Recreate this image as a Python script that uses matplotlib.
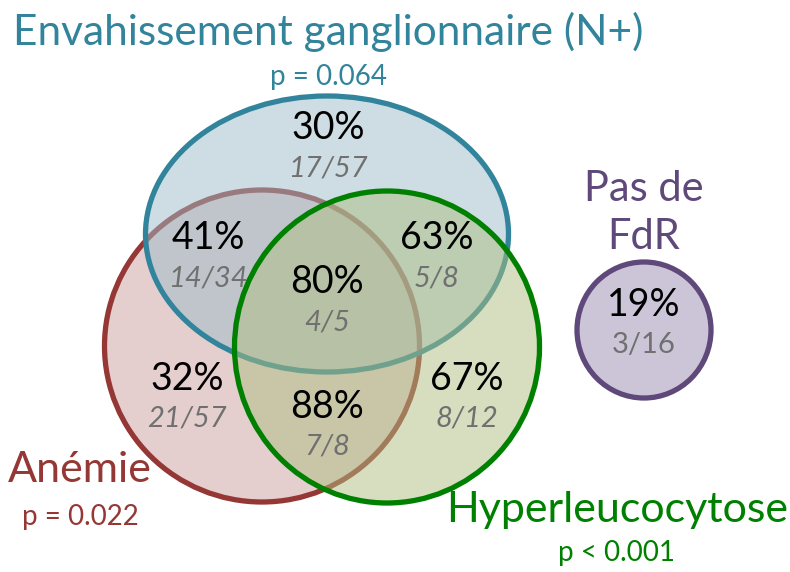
import matplotlib.pyplot as plt
from matplotlib.patches import Ellipse

plt.rcParams['font.family'] = ['Lato', 'DejaVu Sans']

# group names, p-values and colours
groups = ["Anémie", "Envahissement ganglionnaire (N+)", "Hyperleucocytose"]
pvalues = ["p = 0.022", "p = 0.064", "p < 0.001"]
edge_colors = ["#953735", "#31849B", "#008000"]
fill_colors = ["#CD9F9F", "#9DBDC9", "#AFBF81"]

# region results (percent, n/N)
regions = ["N+ seul", "Anémie + N+", "N+ + Hyperleuco", "les trois",
           "Anémie seule", "Anémie + Hyperleuco", "Hyperleuco seule"]
percents = ["30%", "41%", "63%", "80%", "32%", "88%", "67%"]
fractions = ["17/57", "14/34", "5/8", "4/5", "21/57", "7/8", "8/12"]

# no risk factor group
none_label = "Pas de\nFdR"
none_percent = "19%"
none_fraction = "3/16"

# layout in pixel coordinates (origin top-left)
ellipses = [((262, 346), 315, 312),   # anémie
            ((327, 234), 363, 276),   # N+
            ((387, 347), 305, 312)]   # hyperleuco
region_xy = [(328, 128), (208, 238), (437, 238), (327, 282),
             (187, 379), (327, 407), (467, 379)]
group_label_xy = [(80, 470), (328, 32), (617, 510)]
pvalue_xy = [(80, 517), (328, 77), (617, 553)]

fig = plt.figure(figsize=(7.9, 5.72), dpi=100)
ax = fig.add_axes([0, 0, 1, 1])
ax.set_xlim(0, 790)
ax.set_ylim(572, 0)
ax.axis('off')

for i, ((cx, cy), w, h) in enumerate(ellipses):
    ax.add_patch(Ellipse((cx, cy), w, h, facecolor=fill_colors[i], alpha=0.5,
                         edgecolor='none', zorder=i * 2))
    ax.add_patch(Ellipse((cx, cy), w, h, facecolor='none',
                         edgecolor=edge_colors[i], lw=3.8, zorder=i * 2 + 1))

# purple circle
ax.add_patch(Ellipse((644, 330), 134, 136, facecolor='#CCC5D8',
                     edgecolor='#5F497A', lw=3.8, zorder=6))

for (x, y), pc, fr in zip(region_xy, percents, fractions):
    ax.text(x, y, pc, ha='center', va='center', fontsize=27, color='black', zorder=10)
    ax.text(x, y + 40, fr, ha='center', va='center', fontsize=21, color='#707070',
            style='italic', zorder=10)

for i in range(3):
    size = 30.5 if i == 1 else 31
    ax.text(*group_label_xy[i], groups[i], ha='center', va='center',
            fontsize=size, color=edge_colors[i], zorder=10)
    ax.text(*pvalue_xy[i], pvalues[i], ha='center', va='center',
            fontsize=20, color=edge_colors[i], zorder=10)

ax.text(644, 213, none_label, ha='center', va='center', fontsize=30,
        color='#5F497A', linespacing=1.3, zorder=10)
ax.text(644, 305, none_percent, ha='center', va='center', fontsize=27,
        color='black', zorder=10)
ax.text(644, 345, none_fraction, ha='center', va='center', fontsize=21,
        color='#707070', zorder=10)

fig.savefig('out.png', dpi=100)
